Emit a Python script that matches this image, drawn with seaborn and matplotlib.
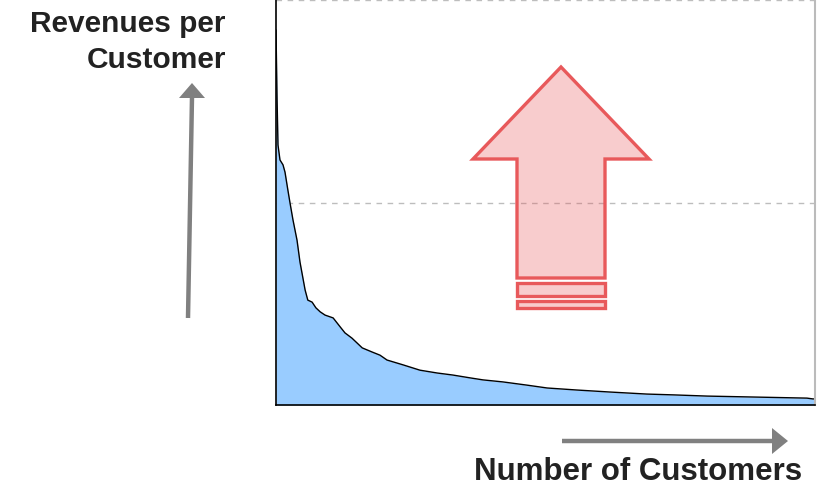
import matplotlib
matplotlib.use("Agg")
import matplotlib.pyplot as plt
from matplotlib.patches import Polygon
import numpy as np
import pandas as pd
import seaborn as sns

# Share of customers (ranked by revenue), in percent
customer_share = [0.0, 0.2, 0.37, 0.74, 1.3, 1.67, 2.2, 2.6, 3.15, 3.9, 4.45, 5.4,
                  5.9, 6.7, 7.4, 8.2, 9.1, 10.6, 11.9, 12.8, 14.1, 16.0, 17.8,
                  19.3, 20.6, 23.6, 26.7, 29.9, 32.8, 36.0, 38.4, 42.1, 46.6,
                  50.3, 55.8, 62.0, 68.8, 73.7, 80.0, 87.4, 98.5, 99.6, 100.0]
# Revenue per customer, relative scale
revenue = [92.6, 75.3, 64.2, 60.5, 59.3, 57.5, 53.1, 49.9, 45.7, 40.7, 35.3, 28.4,
           25.9, 25.4, 24.0, 23.0, 22.2, 21.5, 19.3, 17.8, 16.5, 14.1, 13.1,
           12.3, 11.1, 9.9, 8.6, 7.9, 7.4, 6.7, 6.2, 5.7, 4.9,
           4.2, 3.7, 3.2, 2.7, 2.5, 2.2, 2.0, 1.7, 1.5, 1.5]
reference_levels = [50, 100]

W, H = 824, 492

sns.set_theme(style="white")
plt.rcParams["font.family"] = ["Liberation Sans", "DejaVu Sans"]

fig = plt.figure(figsize=(W / 100, H / 100), dpi=100)
ax = fig.add_axes([276 / W, 87 / H, 539 / W, 405 / H])

df = pd.DataFrame({"customers": customer_share, "revenue": revenue})
ax.fill_between(df["customers"], df["revenue"], 0, color="#99ccff", lw=0, zorder=1)
sns.lineplot(data=df, x="customers", y="revenue", color="black", lw=1.0,
             ax=ax, zorder=2)

for lvl in reference_levels:
    ax.axhline(lvl, color="#bdbdbd", lw=1.0, ls=(0, (4, 4)), zorder=0.5)

ax.set_xlim(0, 100)
ax.set_ylim(0, 100)
ax.set_xticks([])
ax.set_yticks([])
ax.set_xlabel("")
ax.set_ylabel("")
ax.spines["top"].set_visible(False)
ax.spines["right"].set_color("#bbbbbb")
ax.spines["right"].set_linewidth(1.5)
for side in ("left", "bottom"):
    ax.spines[side].set_color("black")
    ax.spines[side].set_linewidth(1.2)


def fig_pts(pts):
    return [(x / W, (H - y) / H) for x, y in pts]


def ax_pts(pts):
    return [((x - 276) / 539, (405 - y) / 405) for x, y in pts]


# Big "increase" arrow inside the plot
red = "#e8595b"
arrow_body = [(561, 67), (649, 159), (605, 159), (605, 278), (517, 278),
              (517, 159), (473, 159)]
for shape in (arrow_body,
              [(517, 283), (605, 283), (605, 296), (517, 296)],
              [(517, 301), (605, 301), (605, 308), (517, 308)]):
    ax.add_patch(Polygon(ax_pts(shape), closed=True, transform=ax.transAxes,
                         facecolor=(232 / 255, 89 / 255, 91 / 255, 0.3),
                         edgecolor=red, lw=2.4, joinstyle="miter", zorder=3))

# Gray axis-direction arrows
gray = "#808080"
fig.add_artist(plt.Line2D([188 / W, 192 / W], [(H - 318) / H, (H - 97) / H],
                          color=gray, lw=3.2, solid_capstyle="butt"))
fig.add_artist(Polygon(fig_pts([(179, 98), (205, 98), (192, 83)]), closed=True,
                       transform=fig.transFigure, color=gray, lw=0))
fig.add_artist(plt.Line2D([562 / W, 773 / W], [(H - 441) / H, (H - 441) / H],
                          color=gray, lw=3.2, solid_capstyle="butt"))
fig.add_artist(Polygon(fig_pts([(772, 428), (772, 454), (788, 441)]), closed=True,
                       transform=fig.transFigure, color=gray, lw=0))

txt = dict(fontweight="bold", color="#222222")
fig.text(226 / W, (H - 42) / H, "Revenues per\nCustomer", ha="right", va="center",
         linespacing=1.38, fontsize=21.5, **txt)
fig.text(802 / W, (H - 472) / H, "Number of Customers", ha="right", va="center",
         fontsize=22.5, **txt)

fig.savefig("out.png", dpi=100)
